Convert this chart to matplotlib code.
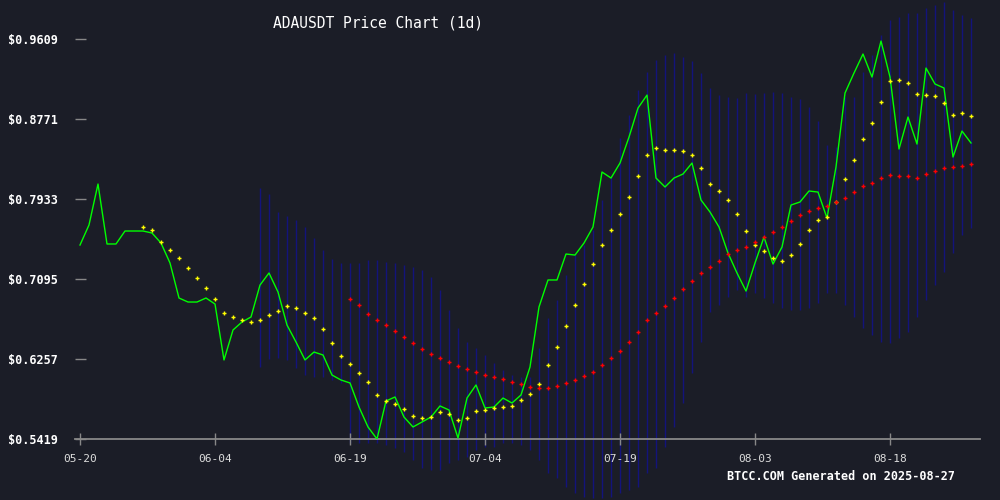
import numpy as np
import matplotlib
matplotlib.use("Agg")
import matplotlib.pyplot as plt

# daily closes from 05-20 to 08-27 (day index 0..99)
price = [0.7451, 0.7661, 0.8090, 0.7462, 0.7462, 0.7598, 0.7598, 0.7598, 0.7577, 0.7472,
         0.7263, 0.6896, 0.6854, 0.6854, 0.6896, 0.6833, 0.6247, 0.6561, 0.6645, 0.6697,
         0.7032, 0.7158, 0.6959, 0.6613, 0.6435, 0.6247, 0.6330, 0.6299, 0.6089, 0.6037,
         0.6006, 0.5754, 0.5545, 0.5419, 0.5817, 0.5859, 0.5649, 0.5545, 0.5597, 0.5649,
         0.5765, 0.5723, 0.5429, 0.5848, 0.5985, 0.5744, 0.5754, 0.5848, 0.5796, 0.5880,
         0.6173, 0.6802, 0.7085, 0.7085, 0.7357, 0.7346, 0.7472, 0.7640, 0.8216, 0.8153,
         0.8310, 0.8582, 0.8886, 0.9022, 0.8153, 0.8059, 0.8153, 0.8195, 0.8310, 0.7923,
         0.7797, 0.7640, 0.7367, 0.7158, 0.6969, 0.7263, 0.7535, 0.7252, 0.7430, 0.7870,
         0.7902, 0.8017, 0.8006, 0.7734, 0.8268, 0.9043, 0.9253, 0.9452, 0.9211, 0.9588,
         0.9211, 0.8457, 0.8792, 0.8509, 0.9305, 0.9138, 0.9096, 0.8373, 0.8645, 0.8520]

# 20-day average, starts at day 7
ma20_start = 7
ma20 = [0.7637, 0.7605, 0.7479, 0.7396, 0.7312, 0.7207, 0.7102, 0.6998, 0.6882, 0.6736,
        0.6694, 0.6662, 0.6641, 0.6662, 0.6715, 0.6757, 0.6809, 0.6788, 0.6736, 0.6683,
        0.6568, 0.6421, 0.6285, 0.6201, 0.6107, 0.6013, 0.5877, 0.5814, 0.5782, 0.5730,
        0.5657, 0.5636, 0.5646, 0.5699, 0.5678, 0.5615, 0.5636, 0.5709, 0.5720, 0.5741,
        0.5754, 0.5765, 0.5828, 0.5890, 0.5995, 0.6194, 0.6383, 0.6603, 0.6823, 0.7043,
        0.7252, 0.7451, 0.7608, 0.7776, 0.7954, 0.8174, 0.8394, 0.8467, 0.8446, 0.8446,
        0.8436, 0.8394, 0.8258, 0.8090, 0.8017, 0.7923, 0.7776, 0.7598, 0.7451, 0.7388,
        0.7315, 0.7284, 0.7346, 0.7462, 0.7608, 0.7713, 0.7744, 0.7902, 0.8143, 0.8342,
        0.8562, 0.8729, 0.8949, 0.9169, 0.9180, 0.9148, 0.9033, 0.9022, 0.9012, 0.8939,
        0.8813, 0.8834, 0.8802]

# 50-day average, starts at day 30
ma50_start = 30
ma50 = [0.6882, 0.6820, 0.6725, 0.6662, 0.6610, 0.6547, 0.6484, 0.6421, 0.6359, 0.6306,
        0.6264, 0.6222, 0.6181, 0.6149, 0.6118, 0.6086, 0.6065, 0.6048, 0.6016, 0.5995,
        0.5964, 0.5953, 0.5953, 0.5974, 0.6006, 0.6037, 0.6079, 0.6121, 0.6194, 0.6267,
        0.6341, 0.6435, 0.6540, 0.6666, 0.6739, 0.6812, 0.6896, 0.6990, 0.7074, 0.7158,
        0.7221, 0.7284, 0.7357, 0.7399, 0.7430, 0.7483, 0.7535, 0.7587, 0.7640, 0.7703,
        0.7765, 0.7807, 0.7839, 0.7860, 0.7902, 0.7943, 0.8006, 0.8069, 0.8101, 0.8153,
        0.8184, 0.8174, 0.8174, 0.8153, 0.8195, 0.8226, 0.8258, 0.8268, 0.8279, 0.8300]

# bollinger bands, start at day 20
bb_start = 20
bb_upper = [0.8048, 0.7985, 0.7797, 0.7755, 0.7713, 0.7640, 0.7524, 0.7399, 0.7305, 0.7263,
            0.7263, 0.7263, 0.7294, 0.7294, 0.7273, 0.7263, 0.7242, 0.7221, 0.7189, 0.7116,
            0.6980, 0.6770, 0.6582, 0.6435, 0.6372, 0.6299, 0.6215, 0.6142, 0.6089, 0.6068,
            0.6068, 0.6372, 0.6686, 0.6875, 0.7137, 0.7346, 0.7451, 0.7608, 0.7923, 0.8163,
            0.8572, 0.8813, 0.9075, 0.9263, 0.9389, 0.9441, 0.9462, 0.9420, 0.9379, 0.9253,
            0.9096, 0.9022, 0.9001, 0.8991, 0.9043, 0.9033, 0.9043, 0.9054, 0.9043, 0.9001,
            0.8981, 0.8897, 0.8750, 0.8499, 0.8478, 0.9001, 0.9001, 0.9263, 0.9441, 0.9651,
            0.9808, 0.9839, 0.9881, 0.9881, 0.9934, 0.9965, 0.9997, 0.9913, 0.9860, 0.9829]
bb_lower = [0.6173, 0.6257, 0.6267, 0.6247, 0.6163, 0.6089, 0.6068, 0.6068, 0.6037, 0.6006,
            0.5377, 0.5377, 0.5377, 0.5377, 0.5356, 0.5325, 0.5283, 0.5199, 0.5115, 0.5094,
            0.5094, 0.5168, 0.5199, 0.5230, 0.5304, 0.5335, 0.5335, 0.5377, 0.5377, 0.5356,
            0.5304, 0.5199, 0.5063, 0.5010, 0.4916, 0.4853, 0.4811, 0.4801, 0.4801, 0.4811,
            0.4853, 0.4885, 0.4916, 0.5063, 0.5115, 0.5335, 0.5545, 0.5796, 0.6110, 0.6435,
            0.6749, 0.6823, 0.6906, 0.6980, 0.6906, 0.6948, 0.6896, 0.6844, 0.6791, 0.6770,
            0.6770, 0.6791, 0.6844, 0.6948, 0.6948, 0.6823, 0.6697, 0.6582, 0.6508, 0.6435,
            0.6425, 0.6477, 0.6540, 0.6697, 0.6875, 0.7032, 0.7168, 0.7367, 0.7556, 0.7629]

tick_days = [0, 15, 30, 45, 60, 75, 90]
tick_labels = ["05-20", "06-04", "06-19", "07-04", "07-19", "08-03", "08-18"]
y_ticks = [0.5419, 0.6257, 0.7095, 0.7933, 0.8771, 0.9609]

bg = "#1b1d27"
mono = "DejaVu Sans Mono"

fig = plt.figure(figsize=(10, 5), dpi=100, facecolor=bg)
ax = fig.add_axes([0.075, 0.122, 0.905, 0.878], facecolor=bg)

days = np.arange(len(price))
bb_days = np.arange(bb_start, bb_start + len(bb_upper))
ax.vlines(bb_days, bb_lower, bb_upper, color="#13137c", lw=1.0, clip_on=False, zorder=1)
ax.plot(days, price, color="#00ff00", lw=1, zorder=3)
ax.plot(np.arange(ma20_start, ma20_start + len(ma20)), ma20, ls="none", marker="+",
        ms=3.5, mew=1, color="#ffff00", zorder=4)
ax.plot(np.arange(ma50_start, ma50_start + len(ma50)), ma50, ls="none", marker="+",
        ms=3.5, mew=1, color="#ff0000", zorder=4)

ax.set_xlim(-5 / 9, 100)
ax.set_ylim(0.5419, 1.0018)
for s in ["top", "right", "left"]:
    ax.spines[s].set_visible(False)
ax.spines["bottom"].set_color("#888888")
ax.spines["bottom"].set_linewidth(1.3)

ax.set_xticks(tick_days)
ax.set_xticklabels(tick_labels, fontfamily=mono, fontsize=8)
ax.tick_params(axis="x", colors="#888888", direction="inout", length=9, width=1, pad=6,
               labelcolor="#dddddd")
ax.set_yticks(y_ticks)
ax.set_yticklabels([f"${v:.4f}" for v in y_ticks], fontfamily=mono, fontsize=8.5,
                   fontweight="bold")
ax.tick_params(axis="y", colors="#888888", direction="in", length=8, width=1, pad=12,
               labelcolor="#ffffff")

fig.text(0.378, 0.955, "ADAUSDT Price Chart (1d)", color="#ffffff", fontfamily=mono,
         fontsize=10.5, ha="center", va="center")
fig.text(0.841, 0.046, "BTCC.COM Generated on 2025-08-27", color="#ffffff",
         fontfamily=mono, fontsize=8.5, fontweight="bold", ha="center", va="center")

fig.savefig("out.png", dpi=100, facecolor=bg)
